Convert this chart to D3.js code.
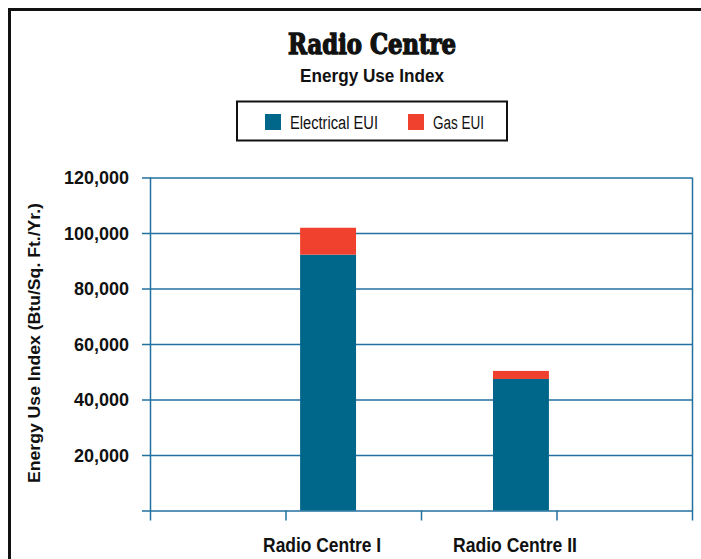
<!DOCTYPE html>
<html><head><meta charset="utf-8">
<script src="https://cdn.jsdelivr.net/npm/d3@7"></script>
<style>
body{margin:0;background:#fff;}
svg{display:block;}
</style></head>
<body>
<svg id="chart" width="701" height="559"></svg>
<script>
const categories = ["Radio Centre I", "Radio Centre II"];
const electricalEUI = [92200, 47400];
const gasEUI = [9700, 2900];
const seriesNames = ["Electrical EUI", "Gas EUI"];
const seriesColors = ["#00668a", "#f0412f"];
const yTickValues = [0, 20000, 40000, 60000, 80000, 100000, 120000];
const xDividers = [0, 1, 2, 3, 4];

const svg = d3.select("#chart");
const sans = "'Liberation Sans Narrow','Arial Narrow','Liberation Sans',Arial,sans-serif";

// outer frame
svg.append("rect").attr("x", 9.5).attr("y", 9.5).attr("width", 800).attr("height", 700)
  .attr("fill", "none").attr("stroke", "#111").attr("stroke-width", 3);

// titles
svg.append("text").attr("x", 372).attr("y", 54).attr("text-anchor", "middle")
  .attr("font-family", "'DejaVu Serif Condensed','DejaVu Serif',serif").attr("font-weight", "bold")
  .attr("font-size", 27).attr("textLength", 168).attr("lengthAdjust", "spacingAndGlyphs")
  .attr("fill", "#111").attr("stroke", "#111").attr("stroke-width", 1.3).text("Radio Centre");
svg.append("text").attr("x", 372).attr("y", 82).attr("text-anchor", "middle")
  .attr("font-family", sans).attr("font-weight", "bold")
  .attr("font-size", 18).attr("textLength", 144).attr("lengthAdjust", "spacingAndGlyphs")
  .attr("fill", "#111").text("Energy Use Index");

// legend
const lg = svg.append("g");
lg.append("rect").attr("x", 237).attr("y", 101.5).attr("width", 270).attr("height", 39)
  .attr("fill", "#fff").attr("stroke", "#111").attr("stroke-width", 2);
const legendItems = [
  {name: seriesNames[0], color: seriesColors[0], x: 265, w: 88},
  {name: seriesNames[1], color: seriesColors[1], x: 408, w: 51}
];
legendItems.forEach(d => {
  lg.append("rect").attr("x", d.x).attr("y", 114).attr("width", 16).attr("height", 16).attr("fill", d.color);
  lg.append("text").attr("x", d.x + 25).attr("y", 128.5)
    .attr("font-family", sans).attr("font-size", 18).attr("fill", "#111")
    .attr("textLength", d.w).attr("lengthAdjust", "spacingAndGlyphs").text(d.name);
});

// scales
const x0 = 150, x1 = 692, yTop = 177.5, yBot = 510.5;
const y = d3.scaleLinear().domain([0, 120000]).range([yBot, yTop]);
const xd = d3.scaleLinear().domain([0, 4]).range([x0, x1]);
const xb = d3.scaleBand().domain(categories).range([x0, x1])
  .paddingInner(0.71).paddingOuter(0.76).align(0.512);

const gridColor = "#2271a0";

// gridlines with ticks (y axis)
const yAxis = d3.axisLeft(y).tickValues(yTickValues).tickSize(-(x1 - x0)).tickSizeOuter(0)
  .tickFormat(d => d === 0 ? "" : d3.format(",")(d));
const gy = svg.append("g").attr("transform", `translate(${x0},0)`).call(yAxis);
gy.select(".domain").remove();
gy.selectAll(".tick line").attr("x1", -8).attr("stroke", gridColor).attr("stroke-width", 1.5);
gy.selectAll(".tick text").attr("x", -21).attr("dy", "0.35em")
  .attr("font-family", "'Liberation Sans',Arial,sans-serif").attr("font-weight", "bold")
  .attr("font-size", 18).attr("fill", "#111");

// x axis dividers
const xAxis = d3.axisBottom(xd).tickValues(xDividers).tickSize(10).tickFormat("");
const gx = svg.append("g").attr("transform", `translate(0,${yBot})`).call(xAxis);
gx.select(".domain").remove();
gx.selectAll(".tick line").attr("y1", -(yBot - yTop)).attr("stroke", gridColor).attr("stroke-width", 1.5);
gx.selectAll(".tick").filter(d => d !== 0 && d !== 4).select("line").attr("y1", 0);

// bars
const stackData = categories.map((c, i) => ({cat: c, e: electricalEUI[i], g: gasEUI[i]}));
const bars = svg.append("g");
bars.selectAll(".e").data(stackData).join("rect")
  .attr("x", d => xb(d.cat)).attr("width", xb.bandwidth())
  .attr("y", d => y(d.e)).attr("height", d => y(0) - y(d.e)).attr("fill", seriesColors[0]);
bars.selectAll(".g").data(stackData).join("rect")
  .attr("x", d => xb(d.cat)).attr("width", xb.bandwidth())
  .attr("y", d => y(d.e + d.g)).attr("height", d => y(d.e) - y(d.e + d.g)).attr("fill", seriesColors[1]);

// x labels
svg.append("g").selectAll("text").data(categories).join("text")
  .attr("x", d => xb(d) + xb.bandwidth() / 2 - 6).attr("y", 551.5).attr("text-anchor", "middle")
  .attr("font-family", sans).attr("font-weight", "bold").attr("font-size", 20).attr("fill", "#111")
  .attr("textLength", (d, i) => i === 0 ? 118 : 124).attr("lengthAdjust", "spacingAndGlyphs")
  .text(d => d);

// y axis title
svg.append("text").attr("transform", `translate(40,343) rotate(-90)`).attr("text-anchor", "middle")
  .attr("font-family", sans).attr("font-weight", "bold").attr("font-size", 17).attr("fill", "#111")
  .attr("textLength", 280).attr("lengthAdjust", "spacingAndGlyphs")
  .text("Energy Use Index (Btu/Sq. Ft./Yr.)");
</script>
</body></html>
